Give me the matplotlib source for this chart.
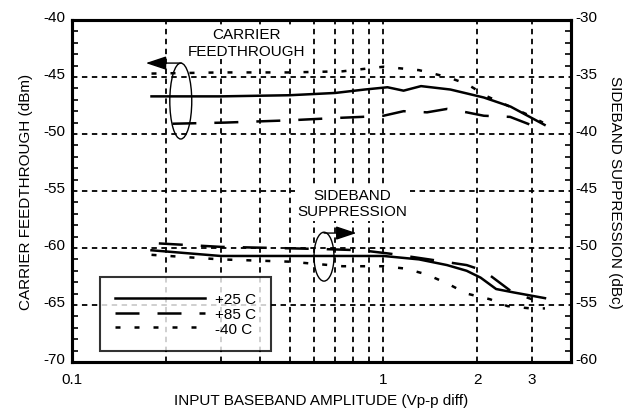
import matplotlib.pyplot as plt
from matplotlib.patches import Ellipse
from matplotlib.transforms import ScaledTranslation
from matplotlib.ticker import FixedLocator, MultipleLocator, NullFormatter

plt.rcParams['font.family'] = ['Liberation Sans', 'DejaVu Sans']
plt.rcParams['axes.unicode_minus'] = False

# carrier feedthrough (dBm, left axis)
cf_x_25 = [0.18, 0.3, 0.5, 0.7, 0.87, 1.03, 1.16, 1.32, 1.64, 2.1, 2.56, 3.29]
cf_y_25 = [-46.7, -46.7, -46.6, -46.4, -46.1, -45.9, -46.2, -45.8, -46.1, -46.8, -47.6, -49.2]
cf_x_85 = [0.21, 0.31, 0.5, 0.7, 0.85, 1.0, 1.16, 1.38, 1.6, 1.85, 2.1, 2.55, 2.97]
cf_y_85 = [-49.1, -49.0, -48.8, -48.6, -48.5, -48.4, -48.0, -48.1, -47.8, -48.1, -48.4, -48.5, -49.2]
cf_x_m40 = [0.18, 0.3, 0.5, 0.74, 1.0, 1.3, 1.6, 1.85, 2.15, 2.5, 2.9, 3.25]
cf_y_m40 = [-44.7, -44.6, -44.6, -44.5, -44.1, -44.4, -45.0, -45.6, -46.7, -47.5, -48.3, -49.0]

# sideband suppression (dBc, right axis)
sb_x_25 = [0.18, 0.3, 0.5, 1.0, 1.3, 1.6, 1.85, 2.05, 2.3, 2.62, 3.3]
sb_y_25 = [-50.2, -50.7, -50.7, -50.7, -51.0, -51.5, -52.0, -52.6, -53.6, -53.9, -54.4]
sb_x_85 = [0.19, 0.3, 0.45, 0.65, 0.85, 1.05, 1.4, 1.85, 2.1, 2.6, 3.0]
sb_y_85 = [-49.6, -49.9, -50.0, -50.1, -50.2, -50.5, -51.0, -51.5, -52.0, -53.9, -54.5]
sb_x_m40 = [0.18, 0.3, 0.5, 0.74, 1.0, 1.17, 1.37, 1.6, 1.85, 2.2, 2.5, 2.97, 3.3]
sb_y_m40 = [-50.6, -51.0, -51.2, -51.6, -51.6, -51.8, -52.3, -53.1, -54.0, -54.5, -55.1, -55.3, -55.3]

x_ticks = [0.1, 1, 2, 3]
x_grid = [0.2, 0.3, 0.4, 0.5, 0.6, 0.7, 0.8, 0.9, 1, 2, 3]
legend_labels = ['+25 C', '+85 C', '-40 C']

fig = plt.figure(figsize=(6.36, 4.14), dpi=100)
ax = fig.add_axes([0.1132, 0.1232, 0.7846, 0.8261])
ax2 = ax.twinx()

ax.set_xscale('log')
ax.set_xlim(0.1, 4.0)
ax.set_ylim(-70, -40)
ax2.set_ylim(-60, -30)

ax.xaxis.set_major_locator(FixedLocator(x_ticks))
ax.xaxis.set_minor_locator(FixedLocator([]))
ax.set_xticklabels([str(v) for v in x_ticks])
ax.xaxis.set_minor_formatter(NullFormatter())
ax.tick_params(axis='x', length=0, pad=7, labelsize=11)

ax.yaxis.set_major_locator(MultipleLocator(5))
ax.yaxis.set_minor_locator(MultipleLocator(1))
ax2.yaxis.set_major_locator(MultipleLocator(5))
ax2.yaxis.set_minor_locator(MultipleLocator(1))
ax.tick_params(axis='y', which='major', length=0, labelsize=11, pad=5)
ax2.tick_params(axis='y', which='major', length=0, labelsize=11, pad=3)
for a in (ax, ax2):
    a.tick_params(axis='y', which='minor', direction='in', length=4, width=1.2)
ax.tick_params(axis='y', which='minor', left=True, right=False)

# labels sit a little above their grid lines
shift = ScaledTranslation(0, 3 / 72, fig.dpi_scale_trans)
for t in ax.yaxis.get_major_ticks():
    t.label1.set_transform(t.label1.get_transform() + shift)
for t in ax2.yaxis.get_major_ticks():
    t.label2.set_transform(t.label2.get_transform() + shift)

# grid
grid_kw = dict(color='black', lw=1.3, ls=(0, (3, 2.5)), zorder=1)
for gx in x_grid:
    ax.axvline(gx, **grid_kw)
for gy in [-45, -50, -55, -60, -65]:
    ax.axhline(gy, **grid_kw)

for a in (ax, ax2):
    for s in a.spines.values():
        s.set_linewidth(2.2)

s25 = dict(color='black', lw=1.8, ls='-')
s85 = dict(color='black', lw=1.8, ls=(0, (9.6, 7.2)))
sm40 = dict(color='black', lw=1.8, ls=(0, (2.0, 5.6)))

ax.plot(cf_x_25, cf_y_25, zorder=3, **s25)
ax.plot(cf_x_85, cf_y_85, zorder=3, **s85)
ax.plot(cf_x_m40, cf_y_m40, zorder=3, **sm40)
ax2.plot(sb_x_25, sb_y_25, zorder=3, **s25)
ax2.plot(sb_x_85, sb_y_85, zorder=3, **s85)
ax2.plot(sb_x_m40, sb_y_m40, zorder=3, **sm40)

# annotations
ax.text(0.363, -41.95, 'CARRIER\nFEEDTHROUGH', ha='center', va='center', fontsize=11, linespacing=1.25,
        bbox=dict(fc='white', ec='none', pad=1), zorder=4)
ax.add_patch(Ellipse((0.218, 0.763), 0.044, 0.222, transform=ax.transAxes,
                     fill=False, lw=1.0, ec='black', zorder=4))
ax.annotate('', xy=(0.148, 0.874), xytext=(0.219, 0.874), xycoords='axes fraction',
            arrowprops=dict(arrowstyle='-|>,head_length=0.9,head_width=0.3', color='black',
                            lw=1.0, mutation_scale=14, shrinkA=0, shrinkB=0), zorder=5)

ax.text(0.795, -56.05, 'SIDEBAND\nSUPPRESSION', ha='center', va='center', fontsize=11, linespacing=1.2,
        bbox=dict(fc='white', ec='none', pad=2), zorder=4)
ax.add_patch(Ellipse((0.505, 0.308), 0.040, 0.143, transform=ax.transAxes,
                     fill=False, lw=1.0, ec='black', zorder=4))
ax.annotate('', xy=(0.57, 0.377), xytext=(0.505, 0.377), xycoords='axes fraction',
            arrowprops=dict(arrowstyle='-|>,head_length=0.9,head_width=0.3', color='black',
                            lw=1.0, mutation_scale=14, shrinkA=0, shrinkB=0), zorder=5)

# legend
leg = ax.legend([plt.Line2D([], [], **s25), plt.Line2D([], [], **s85), plt.Line2D([], [], **sm40)],
                legend_labels, loc='lower left', bbox_to_anchor=(0.056, 0.032),
                fontsize=11, frameon=True, fancybox=False, handlelength=5.9, handletextpad=0.6,
                labelspacing=0.05, borderpad=1.0, borderaxespad=0)
leg.get_frame().set_edgecolor('black')
leg.get_frame().set_linewidth(1.5)
leg.set_zorder(6)

ax.set_xlabel('INPUT BASEBAND AMPLITUDE (Vp-p diff)', fontsize=11, labelpad=5)
ax.set_ylabel('CARRIER FEEDTHROUGH (dBm)', fontsize=11, labelpad=7)
ax2.set_ylabel('SIDEBAND SUPPRESSION (dBc)', fontsize=11, rotation=-90, labelpad=18)

fig.savefig('out.png', dpi=100)
